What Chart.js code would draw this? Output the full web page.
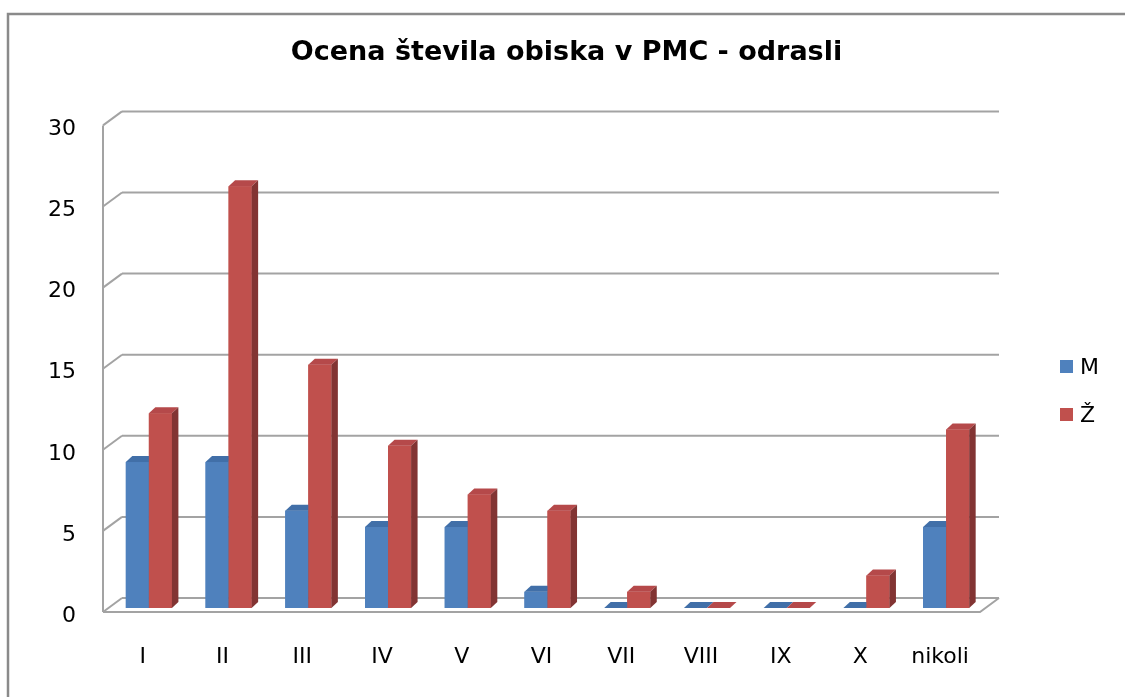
<!DOCTYPE html>
<html>
<head>
<meta charset="utf-8">
<script src="https://cdn.jsdelivr.net/npm/chart.js@4/dist/chart.umd.min.js"></script>
<style>
  html, body { margin: 0; padding: 0; background: #ffffff; }
  #wrap { position: relative; width: 1125px; height: 697px; }
</style>
</head>
<body>
<div id="wrap"><canvas id="c" width="1125" height="697"></canvas></div>
<script>
const categories = ['I', 'II', 'III', 'IV', 'V', 'VI', 'VII', 'VIII', 'IX', 'X', 'nikoli'];
const seriesNames = ['M', 'Ž'];
const valuesM = [9, 9, 6, 5, 5, 1, 0, 0, 0, 0, 5];
const valuesZ = [12, 26, 15, 10, 7, 6, 1, 0, 0, 2, 11];
const yTicks = [0, 5, 10, 15, 20, 25, 30];
const titleText = 'Ocena števila obiska v PMC - odrasli';

const FONT = "'DejaVu Sans', sans-serif";
const faceColors = ['#4F81BD', '#C0504D'];
const topColors = ['#416FA8', '#B5494A'];
const sideColors = ['#385E8C', '#823433'];

const D = { dx: 6.5, dy: 6 };        // bar depth
const BACK = { dx: 13, dy: -10 };    // back wall offset from bar plane
const FRONT = { dx: -6, dy: 4 };     // front edge offset from bar plane

function line(ctx, x0, y0, x1, y1) {
  ctx.beginPath(); ctx.moveTo(x0, y0); ctx.lineTo(x1, y1); ctx.stroke();
}

const scene3d = {
  id: 'scene3d',
  beforeDraw(chart) {
    const ctx = chart.ctx;
    ctx.save();
    ctx.strokeStyle = '#8a8a8a';
    ctx.lineWidth = 2.5;
    ctx.beginPath();
    ctx.moveTo(8, 700); ctx.lineTo(8, 14); ctx.lineTo(1130, 14);
    ctx.stroke();
    ctx.restore();
  },
  beforeDatasetsDraw(chart) {
    const { ctx, chartArea: a, scales: { y } } = chart;
    const fx0 = a.left + FRONT.dx, fx1 = a.right + FRONT.dx;
    const bx0 = a.left + BACK.dx, bx1 = a.right + BACK.dx;
    ctx.save();
    ctx.strokeStyle = '#a3a3a3';
    ctx.lineWidth = 2;
    yTicks.forEach(v => {
      const yp = y.getPixelForValue(v);
      line(ctx, bx0, yp + BACK.dy, bx1, yp + BACK.dy);
      line(ctx, fx0, yp + FRONT.dy, bx0, yp + BACK.dy);
    });
    const y0 = y.getPixelForValue(0), yMax = y.getPixelForValue(yTicks[yTicks.length - 1]);
    line(ctx, fx0, y0 + FRONT.dy, fx0, yMax + FRONT.dy);
    ctx.beginPath();
    ctx.moveTo(fx0, y0 + FRONT.dy);
    ctx.lineTo(fx1, y0 + FRONT.dy);
    ctx.lineTo(bx1, y0 + BACK.dy);
    ctx.stroke();
    ctx.restore();
  },
  afterDatasetsDraw(chart) {
    const ctx = chart.ctx;
    const metas = [chart.getDatasetMeta(0), chart.getDatasetMeta(1)];
    ctx.save();
    for (let i = 0; i < categories.length; i++) {
      metas.forEach((meta, s) => {
        const el = meta.data[i];
        const x0 = el.x - el.width / 2, x1 = el.x + el.width / 2;
        const yt = Math.min(el.y, el.base), yb = Math.max(el.y, el.base);
        if (yb - yt > 0) {
          ctx.fillStyle = faceColors[s];
          ctx.fillRect(x0, yt, x1 - x0, yb - yt);
        }
        ctx.fillStyle = topColors[s];
        ctx.beginPath();
        ctx.moveTo(x0, yt); ctx.lineTo(x1, yt);
        ctx.lineTo(x1 + D.dx, yt - D.dy); ctx.lineTo(x0 + D.dx, yt - D.dy);
        ctx.closePath(); ctx.fill();
        ctx.fillStyle = sideColors[s];
        ctx.beginPath();
        ctx.moveTo(x1, yt); ctx.lineTo(x1 + D.dx, yt - D.dy);
        ctx.lineTo(x1 + D.dx, yb - D.dy); ctx.lineTo(x1, yb);
        ctx.closePath(); ctx.fill();
      });
    }
    ctx.restore();
  },
  afterDraw(chart) {
    const ctx = chart.ctx;
    ctx.save();
    ctx.font = '22px ' + FONT;
    ctx.textBaseline = 'middle';
    ctx.textAlign = 'left';
    chart.data.datasets.forEach((ds, s) => {
      const cy = 367 + s * 48;
      ctx.fillStyle = ds.backgroundColor;
      ctx.fillRect(1060, cy - 7, 13, 13);
      ctx.fillStyle = '#000000';
      ctx.fillText(ds.label, 1080, cy + 1);
    });
    ctx.restore();
  }
};

new Chart(document.getElementById('c'), {
  type: 'bar',
  data: {
    labels: categories,
    datasets: [
      { label: seriesNames[0], data: valuesM, backgroundColor: faceColors[0] },
      { label: seriesNames[1], data: valuesZ, backgroundColor: faceColors[1] }
    ]
  },
  options: {
    responsive: false,
    animation: false,
    devicePixelRatio: 1,
    layout: { padding: { left: 8, right: 0, top: 0, bottom: 0 } },
    datasets: { bar: { categoryPercentage: 0.578, barPercentage: 1.0, borderWidth: 0 } },
    plugins: {
      legend: { display: false },
      tooltip: { enabled: false },
      title: {
        display: true,
        text: titleText,
        color: '#000000',
        font: { family: FONT, size: 27, weight: 'bold' },
        padding: { top: 37, bottom: 52 },
        lineHeight: 1.2
      }
    },
    scales: {
      x: {
        grid: { display: false, drawTicks: false },
        border: { display: false },
        ticks: { color: '#000000', font: { family: FONT, size: 22 }, padding: 36, labelOffset: -6, maxRotation: 0, autoSkip: false },
        afterFit(scale) { scale.height = 89; }
      },
      y: {
        min: 0, max: 30,
        grid: { display: false, drawTicks: false },
        border: { display: false },
        ticks: { stepSize: 5, color: '#000000', font: { family: FONT, size: 22 }, padding: 33, labelOffset: 8 },
        afterFit(scale) { scale.width = 101; }
      },
      yRight: {
        type: 'linear',
        position: 'right',
        min: 0, max: 30,
        grid: { display: false, drawTicks: false },
        border: { display: false },
        ticks: { display: false },
        afterFit(scale) { scale.width = 139; }
      }
    }
  },
  plugins: [scene3d]
});
</script>
</body>
</html>
